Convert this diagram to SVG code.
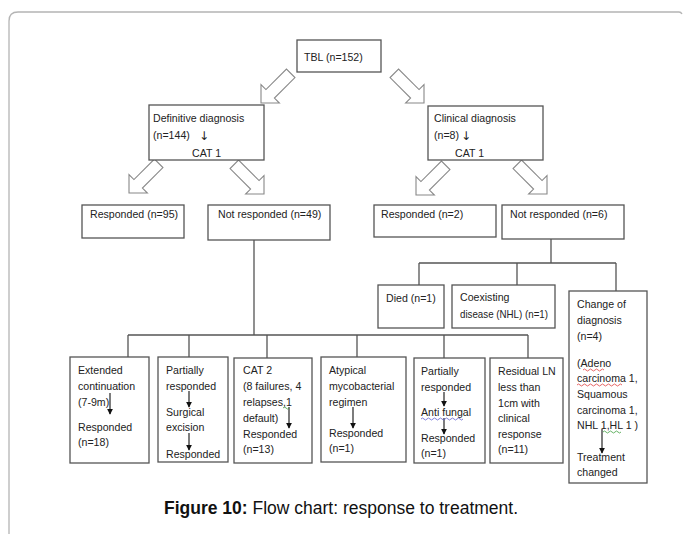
<svg xmlns="http://www.w3.org/2000/svg" width="683" height="534" viewBox="0 0 683 534">
<defs>
<style>
.frame{fill:none;stroke:#b4b4b4;stroke-width:1.3}
.box{fill:#fff;stroke:#555;stroke-width:1.3}
.blk{fill:#fff;stroke:#888;stroke-width:1.1}
.ln{fill:none;stroke:#555;stroke-width:1.3}
.arr{fill:none;stroke:#111;stroke-width:1.1;marker-end:url(#ah)}
.t{font-family:"Liberation Sans",Arial,sans-serif;font-size:10.6px;fill:#222}
.dn{font-family:"DejaVu Sans",sans-serif;font-size:12px;fill:#222}
.cap{font-family:"Liberation Sans",Arial,sans-serif;font-size:17.5px;fill:#111}
.sq{fill:none;stroke-width:0.8}
</style>
<marker id="ah" viewBox="0 0 8 8" refX="7" refY="4" markerWidth="6" markerHeight="6" markerUnits="userSpaceOnUse" orient="auto">
<path d="M0,0 L8,4 L0,8 Z" fill="#111"/>
</marker>
<path id="blockarrow" d="M0,0 L-13,-13 L-13,-6 L-42,-6 L-42,6 L-13,6 L-13,13 Z"/>
</defs>
<rect width="683" height="534" fill="#fff"/>
<path class="frame" d="M9,534 L9,21 Q9,12 18,12 L679,12 Q681,12 682,14"/>

<g id="connectors">
<use href="#blockarrow" class="blk" transform="translate(261,103) rotate(135)"/>
<use href="#blockarrow" class="blk" transform="translate(424,103) rotate(45)"/>
<use href="#blockarrow" class="blk" transform="translate(129,193) rotate(135)"/>
<use href="#blockarrow" class="blk" transform="translate(264,194) rotate(45)"/>
<use href="#blockarrow" class="blk" transform="translate(416,195) rotate(135)"/>
<use href="#blockarrow" class="blk" transform="translate(547,194) rotate(45)"/>
<path class="ln" d="M254,240 V335 M128,335 H528 M128,335 V357 M189,335 V357 M267,335 V358 M357,335 V357 M444,335 V358 M528,335 V358"/>
<path class="ln" d="M551,239 V263 M419,263 H616 M419,263 V285 M517,263 V285 M616,263 V291"/>
</g>

<g id="n-tbl"><rect class="box" x="297" y="40" width="84" height="32"/><text class="t" x="304" y="61">TBL (n=152)</text></g>

<g id="n-definitive"><rect class="box" x="149" y="105" width="115" height="55"/>
<text class="t" x="153" y="122">Definitive diagnosis</text>
<text class="t" x="153" y="139">(n=144)</text><text class="dn" x="199" y="140">↓</text>
<text class="t" x="192" y="157">CAT 1</text></g>

<g id="n-clinical"><rect class="box" x="428" y="106" width="115" height="54"/>
<text class="t" x="434" y="122">Clinical diagnosis</text>
<text class="t" x="434" y="139">(n=8)</text><text class="dn" x="461" y="140">↓</text>
<text class="t" x="455" y="157">CAT 1</text></g>

<g id="n-resp95"><rect class="box" x="82" y="205" width="102" height="33"/><text class="t" x="90" y="218">Responded (n=95)</text></g>
<g id="n-notresp49"><rect class="box" x="208" y="205" width="122" height="35"/><text class="t" x="218" y="218">Not responded (n=49)</text></g>
<g id="n-resp2"><rect class="box" x="374" y="205" width="122" height="32"/><text class="t" x="381" y="218">Responded (n=2)</text></g>
<g id="n-notresp6"><rect class="box" x="502" y="205" width="122" height="34"/><text class="t" x="510" y="218">Not responded (n=6)</text></g>

<g id="n-died"><rect class="box" x="378" y="285" width="66" height="43"/><text class="t" x="386" y="302">Died (n=1)</text></g>
<g id="n-coexisting"><rect class="box" x="452" y="285" width="103" height="43"/>
<text class="t" x="460" y="301">Coexisting</text><text class="t" x="460" y="318" textLength="88" lengthAdjust="spacingAndGlyphs">disease (NHL) (n=1)</text></g>

<g id="n-change"><rect class="box" x="569" y="291" width="78" height="192"/>
<text class="t" x="577" y="308">Change of</text>
<text class="t" x="577" y="324">diagnosis</text>
<text class="t" x="577" y="340">(n=4)</text>
<text class="t" x="577" y="367">(Adeno</text>
<text class="t" x="577" y="382">carcinoma 1,</text>
<text class="t" x="577" y="398">Squamous</text>
<text class="t" x="577" y="414">carcinoma 1,</text>
<text class="t" x="577" y="429">NHL 1,HL 1 )</text>
<text class="t" x="577" y="461">Treatment</text>
<text class="t" x="577" y="476">changed</text>
<path class="arr" d="M602,429 V453"/>
<path class="sq" stroke="#e04040" d="M583,370 q1.5,-2 3,0 t3,0 t3,0 t3,0 t3,0 t3,0 t3,0"/>
<path class="sq" stroke="#e04040" d="M577,385 q1.5,-2 3,0 t3,0 t3,0 t3,0 t3,0 t3,0 t3,0 t3,0 t3,0 t3,0 t3,0 t3,0 t3,0 t3,0 t3,0"/>
<path class="sq" stroke="#40a040" d="M603,432 q1.5,-2 3,0 t3,0 t3,0 t3,0 t3,0 t3,0"/>
</g>

<g id="n-extended"><rect class="box" x="70" y="357" width="79" height="106"/>
<text class="t" x="78" y="374">Extended</text>
<text class="t" x="78" y="390">continuation</text>
<text class="t" x="78" y="406">(7-9m)</text>
<text class="t" x="78" y="431">Responded</text>
<text class="t" x="78" y="446">(n=18)</text>
<path class="arr" d="M110,393 V414"/>
</g>

<g id="n-partial1"><rect class="box" x="158" y="357" width="70" height="105"/>
<text class="t" x="166" y="374">Partially</text>
<text class="t" x="166" y="390">responded</text>
<text class="t" x="166" y="416">Surgical</text>
<text class="t" x="166" y="431">excision</text>
<text class="t" x="166" y="458">Responded</text>
<path class="arr" d="M189,391 V407"/>
<path class="arr" d="M189,433 V450"/>
</g>

<g id="n-cat2"><rect class="box" x="234" y="358" width="78" height="105"/>
<text class="t" x="243" y="374">CAT 2</text>
<text class="t" x="243" y="390">(8  failures, 4</text>
<text class="t" x="243" y="406">relapses,1</text>
<text class="t" x="243" y="422">default)</text>
<text class="t" x="243" y="438">Responded</text>
<text class="t" x="243" y="453">(n=13)</text>
<path class="arr" d="M289,407 V428"/>
<path class="sq" stroke="#40a040" d="M283,408 q1.5,-2 3,0 t3,0"/>
</g>

<g id="n-atypical"><rect class="box" x="321" y="357" width="85" height="105"/>
<text class="t" x="329" y="374">Atypical</text>
<text class="t" x="329" y="390">mycobacterial</text>
<text class="t" x="329" y="406">regimen</text>
<text class="t" x="329" y="437">Responded</text>
<text class="t" x="329" y="452">(n=1)</text>
<path class="arr" d="M353,407 V428"/>
</g>

<g id="n-partial2"><rect class="box" x="414" y="358" width="71" height="105"/>
<text class="t" x="421" y="375">Partially</text>
<text class="t" x="421" y="391">responded</text>
<text class="t" x="421" y="416">Anti fungal</text>
<text class="t" x="421" y="442">Responded</text>
<text class="t" x="421" y="457">(n=1)</text>
<path class="arr" d="M444,392 V406"/>
<path class="arr" d="M444,418 V434"/>
<path class="sq" stroke="#6060d0" d="M421,419 q1.5,-2 3,0 t3,0 t3,0 t3,0 t3,0 t3,0 t3,0 t3,0 t3,0 t3,0 t3,0 t3,0 t3,0 t3,0"/>
</g>

<g id="n-residual"><rect class="box" x="490" y="358" width="73" height="105"/>
<text class="t" x="498" y="375">Residual LN</text>
<text class="t" x="498" y="391">less than</text>
<text class="t" x="498" y="407">1cm with</text>
<text class="t" x="498" y="422">clinical</text>
<text class="t" x="498" y="438">response</text>
<text class="t" x="498" y="453">(n=11)</text>
</g>

<text class="cap" x="341" y="514" text-anchor="middle"><tspan font-weight="bold">Figure 10:</tspan> Flow chart: response to treatment.</text>
</svg>
